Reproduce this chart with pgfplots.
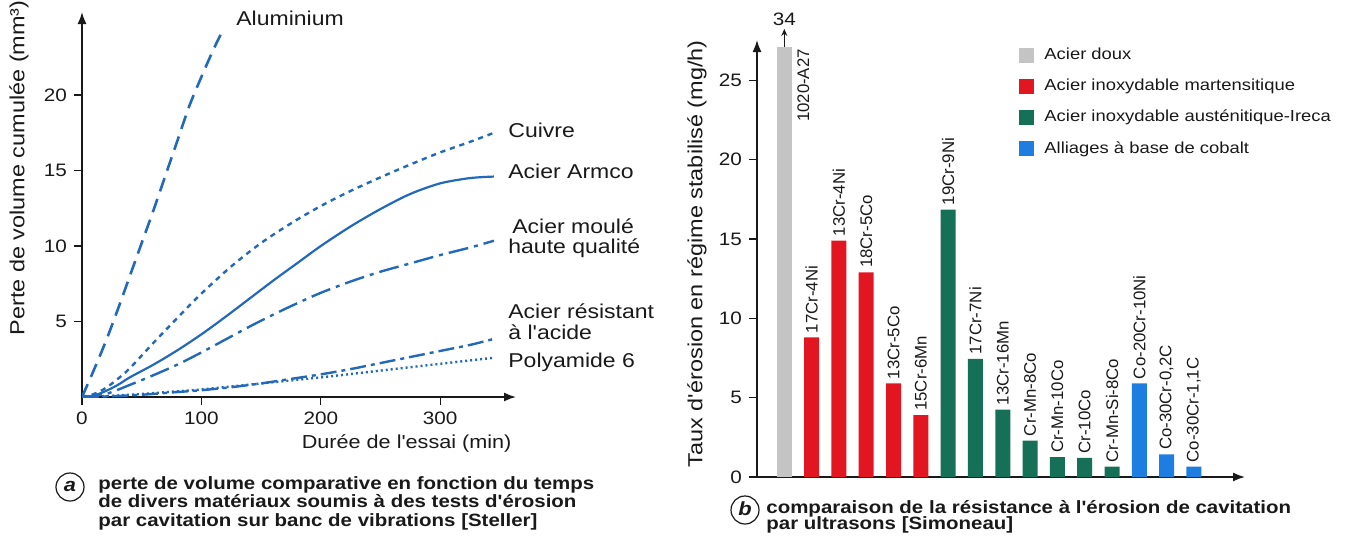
\documentclass[border=0pt]{standalone}
\usepackage{fontspec}
\setmainfont{Liberation Sans}[FakeStretch=1.15, Ligatures=TeXOff]
\newfontfamily\plainfont{Liberation Sans}
\usepackage{pgfplots}
\pgfplotsset{compat=1.18}
\usetikzlibrary{arrows.meta}

\definecolor{curveblue}{RGB}{35,105,185}
\definecolor{barGray}{RGB}{196,196,196}
\definecolor{barRed}{RGB}{226,22,32}
\definecolor{barGreen}{RGB}{22,112,88}
\definecolor{barBlue}{RGB}{30,125,225}
\definecolor{inkgray}{RGB}{25,25,25}

\pgfplotsset{
  arrowaxis/.style={
    scale only axis,
    axis lines=left,
    axis line style={line width=0.8pt, inkgray, -{Latex[length=6pt,width=4.5pt]}},
    tick align=outside, major tick length=4pt,
    tick style={line width=0.6pt, inkgray},
    /pgf/number format/assume math mode=true,
    ticklabel style={font=\fontsize{9}{10}\selectfont, text=inkgray},
    xlabel style={font=\fontsize{9.4}{11}\selectfont, text=inkgray},
    ylabel style={font=\fontsize{10.2}{11}\selectfont, text=inkgray},
  }
}

\begin{document}
\begin{tikzpicture}
\useasboundingbox (0,0) rectangle (677pt,271.5pt);

% (a) cumulated volume loss versus test duration
\begin{axis}[
  arrowaxis,
  at={(41pt,73pt)}, anchor=south west,
  width=217pt, height=192.5pt,
  xmin=0, xmax=363.5, ymin=0, ymax=25.5,
  xtick={0,100,200,300}, ytick={5,10,15,20},
  xlabel={Durée de l'essai (min)},
  ylabel={Perte de volume cumulée (mm³)},
  xlabel style={at={(axis description cs:0.748,-0.122)}, anchor=center},
  ylabel style={at={(axis description cs:-0.145,0.595)}, anchor=center},
]
% Aluminium
\addplot[curveblue, line width=1.3pt, dash pattern=on 7pt off 4pt, smooth] coordinates {
  (0,0) (10,1.8) (20,3.7) (30,5.8) (40,8.0) (50,10.2) (60,12.4) (70,14.7)
  (80,17.0) (90,19.3) (100,21.2) (110,23.0) (118,24.3)};
% Cuivre
\addplot[curveblue, line width=1.2pt, dash pattern=on 2.6pt off 2.4pt, smooth] coordinates {
  (0,0) (10,0.2) (20,0.6) (30,1.2) (40,1.9) (60,3.6) (80,5.25) (100,6.85)
  (125,8.65) (150,10.2) (175,11.5) (200,12.65) (225,13.65) (250,14.55)
  (275,15.4) (300,16.2) (325,16.9) (345,17.5)};
% Acier Armco
\addplot[curveblue, line width=1.1pt, smooth] coordinates {
  (0,0) (10,0.1) (20,0.4) (30,0.8) (40,1.3) (60,2.15) (80,3.1) (100,4.15)
  (120,5.3) (140,6.5) (160,7.7) (180,8.85) (200,10.0) (225,11.3) (250,12.45)
  (275,13.45) (300,14.15) (325,14.5) (345,14.6)};
% Acier moule haute qualite
\addplot[curveblue, line width=1.2pt, dash pattern=on 10pt off 3pt on 2pt off 3pt, smooth] coordinates {
  (0,0) (20,0.2) (40,0.8) (60,1.45) (80,2.15) (100,2.95) (120,3.8) (140,4.65)
  (160,5.45) (180,6.2) (200,6.9) (225,7.65) (250,8.3) (275,8.85) (300,9.4)
  (325,9.9) (345,10.35)};
% Acier resistant a l'acide
\addplot[curveblue, line width=1.2pt, dash pattern=on 8pt off 2.5pt on 2pt off 2.5pt, smooth] coordinates {
  (0,0) (25,0.05) (50,0.15) (75,0.3) (100,0.45) (125,0.65) (150,0.9)
  (175,1.2) (200,1.5) (225,1.85) (250,2.25) (275,2.65) (300,3.05)
  (325,3.45) (345,3.85)};
% Polyamide 6
\addplot[curveblue, line width=1.2pt, dash pattern=on 1pt off 1.5pt, smooth] coordinates {
  (0,0) (25,0.08) (50,0.2) (75,0.35) (100,0.5) (150,0.9) (200,1.3)
  (250,1.75) (300,2.2) (345,2.6)};
\end{axis}

% curve names
\begin{scope}[every node/.style={font=\fontsize{10}{10.5}\selectfont, text=inkgray, inner sep=0pt, anchor=mid west}]
\node at (118pt,261.5pt) {Aluminium};
\node at (254pt,205.5pt) {Cuivre};
\node at (254pt,185pt) {Acier Armco};
\node at (256pt,157.5pt) {Acier moulé};
\node at (254pt,147.5pt) {haute qualité};
\node at (254pt,115pt) {Acier résistant};
\node at (254pt,104.5pt) {à l'acide};
\node at (254pt,90.5pt) {Polyamide 6};
\end{scope}

% (b) erosion rate of the alloys
\begin{axis}[
  arrowaxis,
  at={(378.5pt,33pt)}, anchor=south west,
  width=244pt, height=218.5pt,
  xmin=0, xmax=17.87, ymin=0, ymax=27.55,
  ybar, bar width=7.5pt,
  xtick=\empty, ytick={0,5,10,15,20,25},
  clip=false,
  ylabel={Taux d'érosion en régime stabilisé (mg/h)},
  ylabel style={at={(axis description cs:-0.123,0.511)}, anchor=center},
  legend image code/.code={\fill[#1] (0pt,-3.75pt) rectangle (7.5pt,3.75pt);},
  legend style={draw=none, fill=none, at={(axis description cs:0.537,0.99)},
    anchor=north west, inner sep=0pt, row sep=5.3pt,
    font=\fontsize{8}{9}\selectfont, text=inkgray,
    nodes={inner xsep=5pt, inner ysep=1.5pt}},
  legend cell align=left,
  every node near coord/.append style={rotate=90, anchor=west,
    font=\plainfont\fontsize{8.4}{9}\selectfont, text=inkgray, inner sep=2pt},
]
\addplot[fill=barGray, draw=none, bar shift=0pt, restrict y to domain*=0:27.1]
  coordinates {(1,34)};
\addplot[fill=barRed, draw=none, bar shift=0pt, point meta=explicit symbolic, nodes near coords]
  coordinates {(2,8.8) [17Cr-4Ni] (3,14.9) [13Cr-4Ni] (4,12.9) [18Cr-5Co]
               (5,5.9) [13Cr-5Co] (6,3.9) [15Cr-6Mn]};
\addplot[fill=barGreen, draw=none, bar shift=0pt, point meta=explicit symbolic, nodes near coords]
  coordinates {(7,16.85) [19Cr-9Ni] (8,7.45) [17Cr-7Ni] (9,4.25) [13Cr-16Mn]
               (10,2.3) [Cr-Mn-8Co] (11,1.25) [Cr-Mn-10Co] (12,1.2) [Cr-10Co]
               (13,0.65) [Cr-Mn-Si-8Co]};
\addplot[fill=barBlue, draw=none, bar shift=0pt, point meta=explicit symbolic, nodes near coords]
  coordinates {(14,5.9) [Co-20Cr-10Ni] (15,1.43) [Co-30Cr-0,2C] (16,0.65) [Co-30Cr-1,1C]};
\legend{Acier doux, Acier inoxydable martensitique, Acier inoxydable austénitique-Ireca, Alliages à base de cobalt}
% the 1020-A27 bar runs off the scale: its value is written above it
\draw[line width=0.6pt, inkgray, -{Stealth[length=3.5pt,width=3pt]}] (axis cs:1,27.1) -- (axis cs:1,28.25);
\node[font=\fontsize{9}{10}\selectfont, text=inkgray, inner sep=0pt] at (axis cs:1,28.85) {34};
\node[rotate=90, anchor=east, font=\plainfont\fontsize{8.4}{9}\selectfont, text=inkgray, inner sep=0pt] at (axis cs:1.7,27.0) {1020-A27};
\end{axis}

% captions
\begin{scope}[every node/.style={font=\bfseries\fontsize{8.9}{9.25}\selectfont, text=inkgray, inner sep=0pt, anchor=base west}]
\draw[line width=0.6pt, inkgray] (35pt,28pt) circle (7pt);
\node[anchor=center, font=\bfseries\itshape\fontsize{9.5}{10}\selectfont] at (35pt,28.5pt) {a};
\node at (49pt,27pt) {perte de volume comparative en fonction du temps};
\node at (49pt,18pt) {de divers matériaux soumis à des tests d'érosion};
\node at (49pt,8.5pt) {par cavitation sur banc de vibrations [Steller]};
\draw[line width=0.6pt, inkgray] (372.5pt,16.5pt) circle (7pt);
\node[anchor=center, font=\bfseries\itshape\fontsize{9.5}{10}\selectfont] at (372.5pt,17pt) {b};
\node at (383pt,15pt) {comparaison de la résistance à l'érosion de cavitation};
\node at (383pt,7pt) {par ultrasons [Simoneau]};
\end{scope}
\end{tikzpicture}
\end{document}
